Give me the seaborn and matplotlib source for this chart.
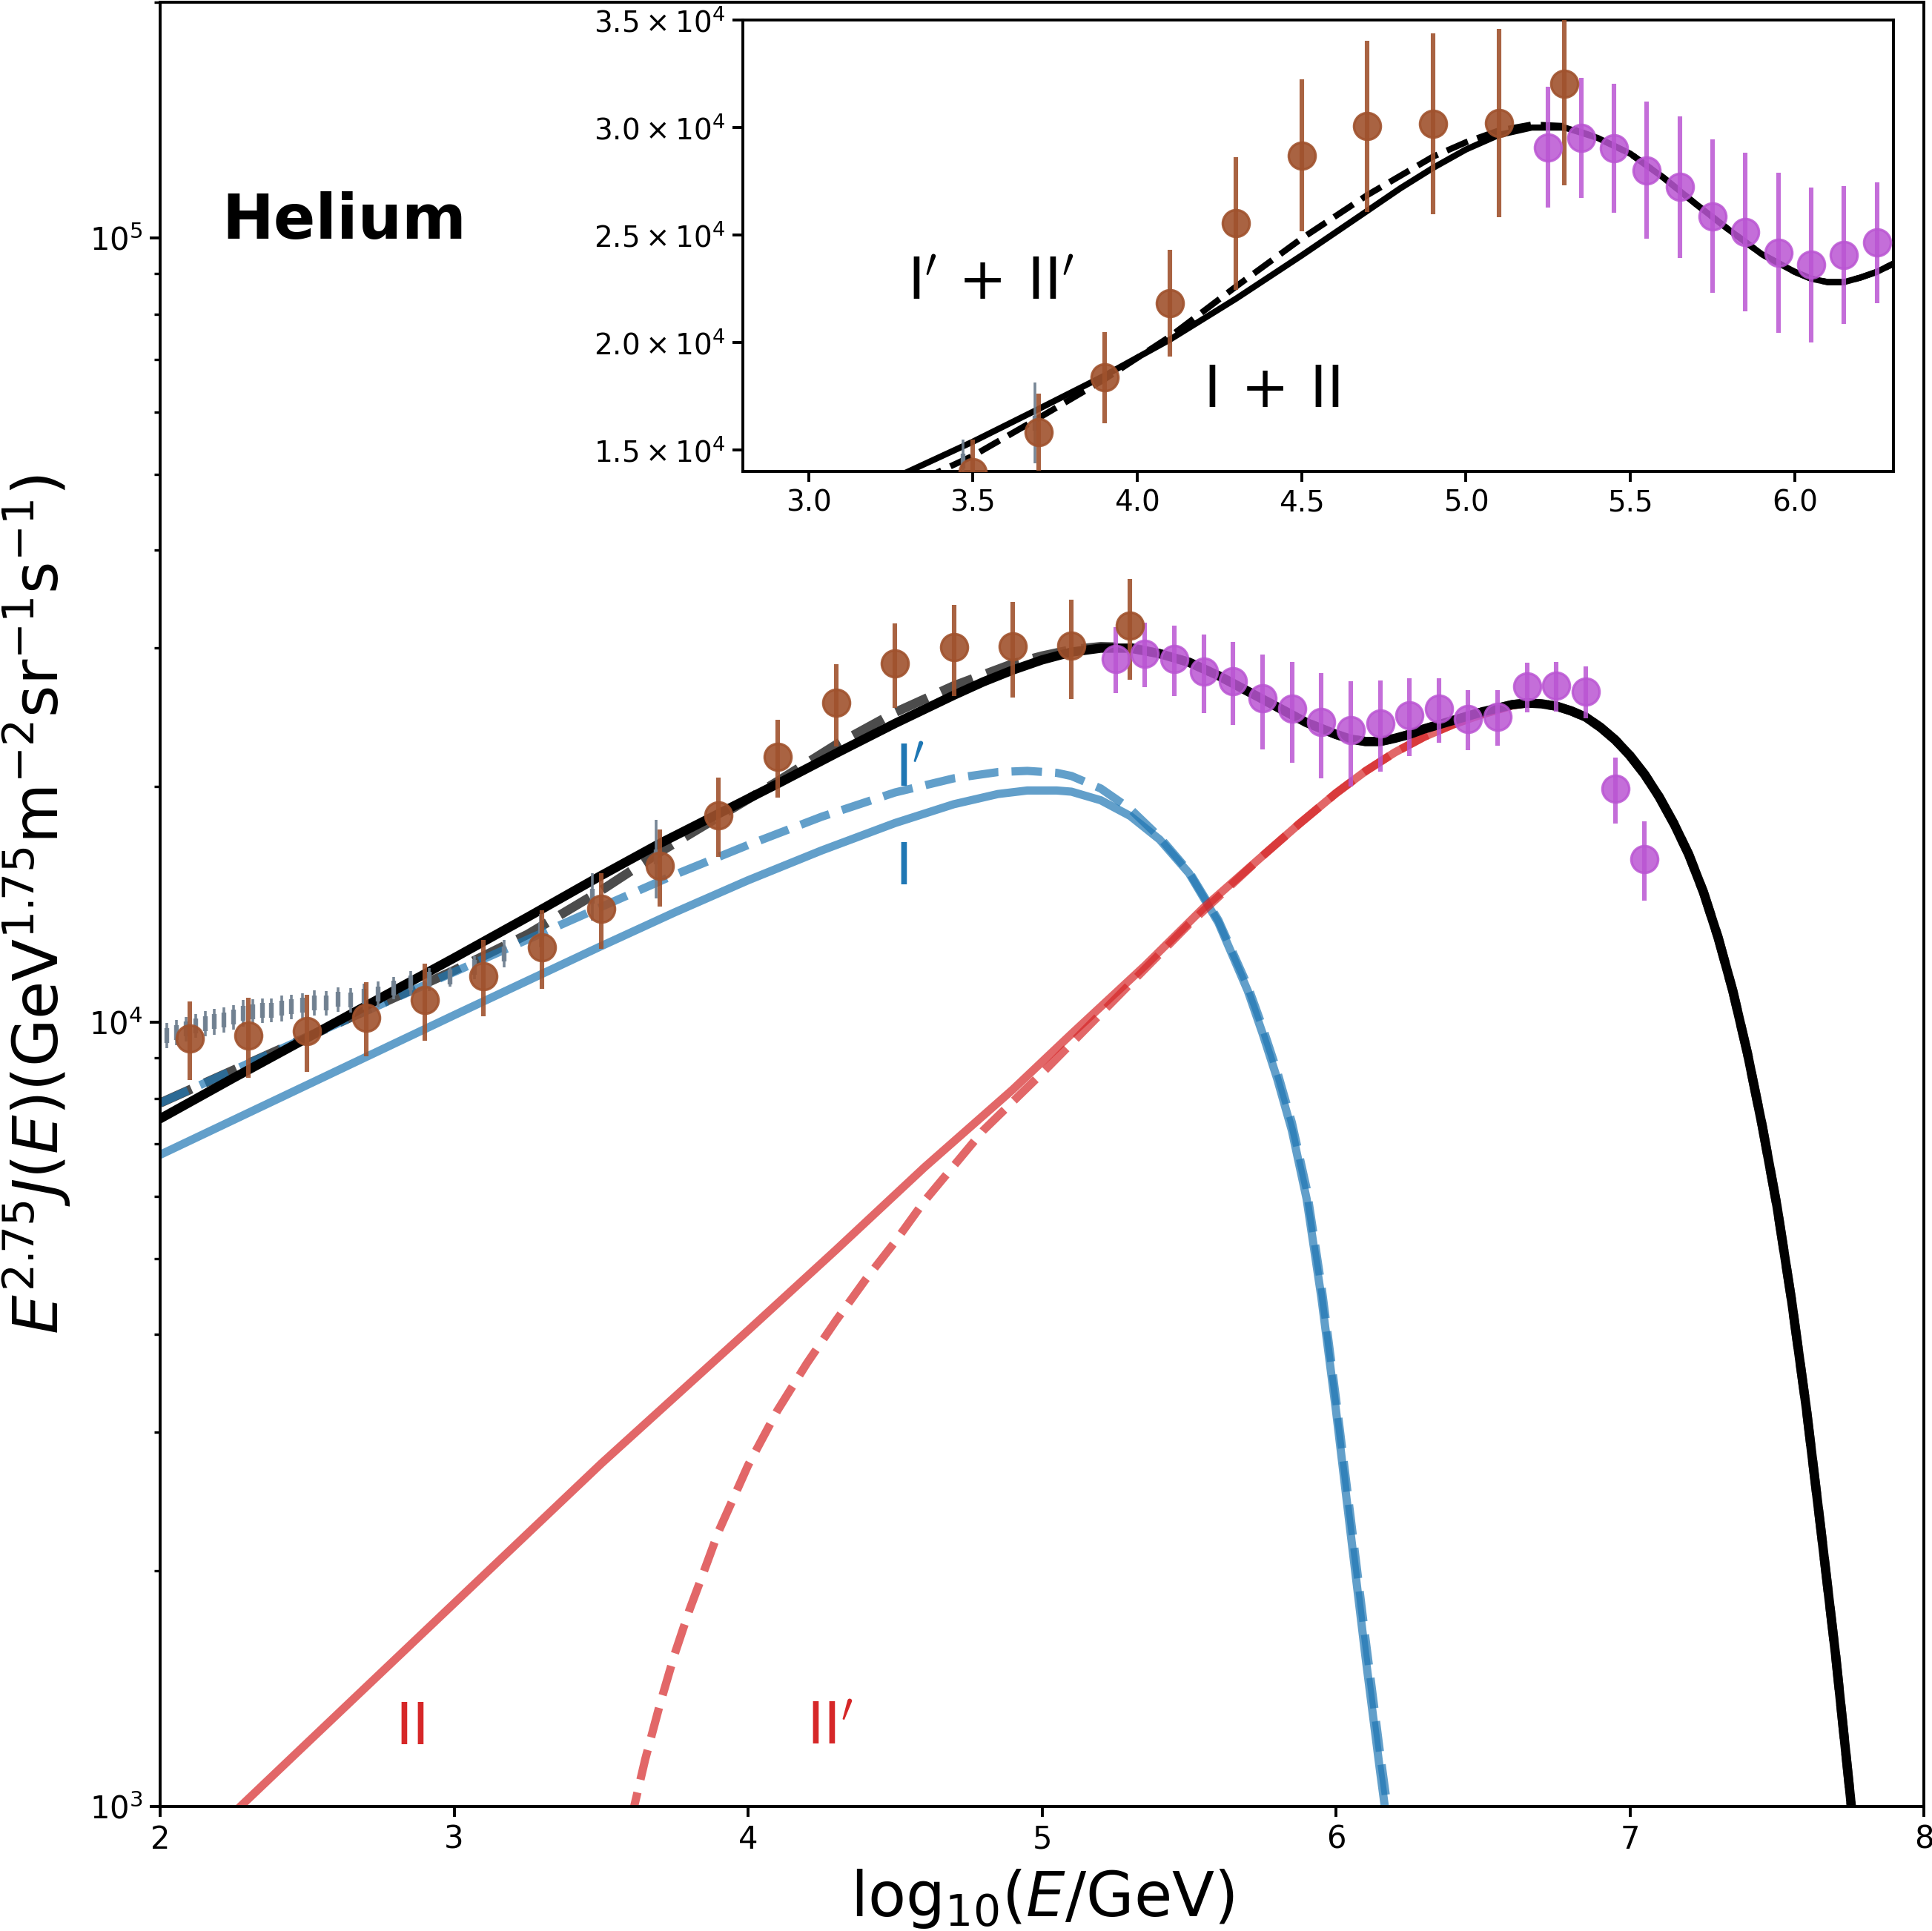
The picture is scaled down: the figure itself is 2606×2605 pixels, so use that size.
import numpy as np
import pandas as pd
import seaborn as sns
import matplotlib.pyplot as plt
from matplotlib.ticker import FixedLocator, FixedFormatter, NullLocator

# ---- data (x = log10(E/GeV), y = E^2.75 J(E)) ----
# gray points (low-energy direct measurement)
gray_x = [2.022, 2.055, 2.087, 2.121, 2.153, 2.185, 2.217, 2.249, 2.282, 2.314,
          2.347, 2.379, 2.413, 2.447, 2.485, 2.524, 2.565, 2.606, 2.647, 2.693,
          2.741, 2.795, 2.853, 2.916, 2.987, 3.07, 3.17, 3.294, 3.47, 3.688]
gray_y = [9623, 9707, 9799, 9899, 9957, 10020, 10065, 10146, 10272, 10317,
          10354, 10362, 10414, 10460, 10505, 10590, 10582, 10698, 10675, 10784,
          10862, 11053, 11231, 11345, 11420, 11750, 12230, 13100, 14480, 16250]
gray_err = [350, 355, 345, 340, 370, 380, 375, 370, 400, 390,
            375, 365, 390, 370, 385, 395, 385, 390, 385, 405,
            410, 360, 385, 380, 320, 400, 490, 650, 1000, 1870]

# brown points
brown_x = [2.1, 2.3, 2.5, 2.7, 2.9, 3.1, 3.3, 3.5, 3.7, 3.9, 4.1, 4.3, 4.5, 4.7, 4.9, 5.1, 5.3]
brown_y = [9533, 9623, 9743, 10140, 10670, 11450, 12470, 13950, 15830, 18370,
           21820, 25530, 28700, 30050, 30170, 30200, 32030]
brown_err = [1100, 1120, 1090, 1100, 1200, 1270, 1430, 1540, 1800, 2120,
             2470, 3070, 3520, 3970, 4200, 4390, 4720]

# purple points
purple_x = [5.25, 5.35, 5.45, 5.55, 5.65, 5.75, 5.85, 5.95, 6.05, 6.15,
            6.25, 6.35, 6.45, 6.55, 6.65, 6.75, 6.85, 6.95, 7.05]
purple_y = [29080, 29510, 29045, 28010, 27220, 25870, 25130, 24170, 23600, 24060,
            24640, 25090, 24380, 24520, 26790, 26850, 26410, 19830, 16160]
purple_err = [2800, 2790, 3000, 3200, 3300, 3570, 3700, 3720, 3600, 3200,
              2800, 2350, 2130, 2000, 1970, 1970, 2000, 1900, 1860]

# model curves, read as log10 of E^2.75 J
tail_x = [6.65, 6.7, 6.75, 6.8, 6.85, 6.9, 6.95, 7.0, 7.05, 7.1, 7.15, 7.2, 7.25,
          7.3, 7.35, 7.4, 7.45, 7.5, 7.55, 7.6, 7.65, 7.7, 7.75, 7.77]
tail_log = [4.407, 4.406, 4.403, 4.397, 4.389, 4.376, 4.360, 4.340, 4.316, 4.287,
            4.253, 4.214, 4.166, 4.108, 4.040, 3.960, 3.868, 3.766, 3.645, 3.508,
            3.352, 3.192, 3.012, 2.935]

knee_x = [5.4, 5.5, 5.6, 5.7, 5.8, 5.9, 6.0, 6.05, 6.1, 6.15, 6.2, 6.25, 6.3,
          6.4, 6.5, 6.6]
knee_log = [4.470, 4.459, 4.442, 4.422, 4.402, 4.382, 4.367, 4.361, 4.358, 4.358,
            4.362, 4.367, 4.374, 4.385, 4.396, 4.405]

tot_x = [2.0, 2.25, 2.5, 2.75, 3.0, 3.25, 3.5, 3.7, 3.9, 4.1, 4.3, 4.5, 4.7, 4.8,
         4.9, 5.0, 5.1, 5.2, 5.3] + knee_x + tail_x
tot_log = [3.877, 3.929, 3.980, 4.031, 4.082, 4.134, 4.187, 4.228, 4.266, 4.304,
           4.343, 4.381, 4.417, 4.434, 4.449, 4.462, 4.472, 4.477, 4.477] + knee_log + tail_log

totp_x = [2.0, 2.5, 3.0, 3.25, 3.5, 3.7, 3.9, 4.1, 4.3, 4.5, 4.7, 4.9, 5.0, 5.1,
          5.2, 5.3] + knee_x + tail_x
totp_log = [3.897, 3.981, 4.066, 4.112, 4.168, 4.217, 4.262, 4.307, 4.354, 4.395,
            4.429, 4.457, 4.467, 4.475, 4.479, 4.478] + knee_log + tail_log

c1_x = [2.0, 2.5, 3.0, 3.5, 3.75, 4.0, 4.25, 4.5, 4.7, 4.85, 4.95, 5.05, 5.1, 5.2,
        5.3, 5.4, 5.5, 5.6, 5.7, 5.75, 5.8, 5.85, 5.9, 5.95, 6.0, 6.05, 6.1, 6.15, 6.2]
c1_log = [3.831, 3.920, 4.009, 4.097, 4.140, 4.181, 4.219, 4.254, 4.278, 4.291,
          4.2955, 4.2955, 4.294, 4.283, 4.263, 4.233, 4.190, 4.127, 4.040, 3.986,
          3.928, 3.862, 3.775, 3.650, 3.505, 3.348, 3.192, 3.045, 2.905]

c1p_x = [2.0, 2.5, 3.0, 3.5, 3.75, 4.0, 4.25, 4.5, 4.7, 4.85, 4.95, 5.05, 5.1, 5.2,
         5.3, 5.4, 5.5, 5.6, 5.7, 5.75, 5.8, 5.85, 5.9, 5.95, 6.0, 6.05, 6.1, 6.15,
         6.2, 6.22]
c1p_log = [3.897, 3.981, 4.064, 4.147, 4.188, 4.226, 4.262, 4.293, 4.311, 4.319,
           4.3205, 4.318, 4.314, 4.298, 4.272, 4.236, 4.192, 4.130, 4.046, 3.994,
           3.937, 3.872, 3.788, 3.665, 3.520, 3.368, 3.215, 3.068, 2.93, 2.87]

c2_x = [2.2, 2.5, 3.0, 3.5, 4.0, 4.3, 4.6, 4.9, 5.1, 5.35, 5.55, 5.75, 5.875, 6.0,
        6.1, 6.2, 6.3, 6.4, 6.5, 6.6] + tail_x
c2_log = [2.974, 3.081, 3.259, 3.437, 3.607, 3.710, 3.815, 3.914, 3.985, 4.072,
          4.146, 4.212, 4.253, 4.292, 4.320, 4.344, 4.364, 4.380, 4.393, 4.404] + tail_log

c2p_x = [3.6, 3.65, 3.7, 3.75, 3.8, 3.85, 3.9, 4.0, 4.1, 4.2, 4.3, 4.4, 4.5, 4.6,
         4.8, 5.0, 5.25, 5.5, 5.75, 5.875, 6.0, 6.1, 6.2, 6.3, 6.4, 6.5, 6.6] + tail_x
c2p_log = [2.980, 3.060, 3.130, 3.194, 3.250, 3.300, 3.351, 3.435, 3.505, 3.565,
           3.620, 3.672, 3.720, 3.772, 3.862, 3.935, 4.030, 4.125, 4.212, 4.253,
           4.292, 4.320, 4.344, 4.364, 4.380, 4.393, 4.404] + tail_log

sns.set_style("ticks")
plt.rcParams['font.family'] = ['DejaVu Sans']
plt.rcParams['mathtext.fontset'] = 'dejavusans'
for key in ['text.color', 'axes.labelcolor', 'xtick.color', 'ytick.color', 'axes.edgecolor']:
    plt.rcParams[key] = 'black'

BLUE = '#1f77b4'
RED = '#d62728'
BROWN = '#a0522d'
PURPLE = '#ba55d3'
GRAY = 'slategray'


def curve(a, xs, logs, **kw):
    sns.lineplot(x=xs, y=10 ** np.array(logs), ax=a, sort=False, estimator=None, **kw)


def draw_points(a):
    a.errorbar(gray_x, gray_y, yerr=gray_err, fmt='|', color=GRAY, ms=7,
               mew=2.3, elinewidth=1.3, alpha=0.95, zorder=5)
    a.errorbar(brown_x, brown_y, yerr=brown_err, fmt='none', ecolor=BROWN,
               elinewidth=2.2, alpha=0.9, zorder=6)
    sns.scatterplot(x=brown_x, y=brown_y, ax=a, color=BROWN, s=170, alpha=0.9,
                    edgecolor=BROWN, linewidth=1.2, zorder=7)
    a.errorbar(purple_x, purple_y, yerr=purple_err, fmt='none', ecolor=PURPLE,
               elinewidth=2.2, alpha=0.85, zorder=6)
    sns.scatterplot(x=purple_x, y=purple_y, ax=a, color=PURPLE, s=170, alpha=0.85,
                    edgecolor=PURPLE, linewidth=1.2, zorder=7)


fig = plt.figure(figsize=(13.03, 13.025), dpi=200)
ax = fig.add_axes([0.0829, 0.0645, 0.9129, 0.9345])

curve(ax, totp_x, totp_log, color='black', lw=4.5, alpha=0.7, linestyle='--', zorder=2)
curve(ax, tot_x, tot_log, color='black', lw=4.5, zorder=3)
curve(ax, c1_x, c1_log, color=BLUE, lw=4, alpha=0.7, zorder=2)
curve(ax, c1p_x, c1p_log, color=BLUE, lw=4, alpha=0.7, linestyle='--', zorder=2)
curve(ax, c2_x, c2_log, color=RED, lw=4, alpha=0.7, zorder=2)
curve(ax, c2p_x, c2p_log, color=RED, lw=4, alpha=0.7, linestyle='--', zorder=2)
draw_points(ax)

ax.set_yscale('log')
ax.set_xlim(2, 8)
ax.set_ylim(1e3, 2e5)
ax.set_xticks([2, 3, 4, 5, 6, 7, 8])
ax.set_xticklabels(['2', '3', '4', '5', '6', '7', '8'])
ax.tick_params(which='major', labelsize=15, length=5, width=1.4)
ax.tick_params(which='minor', length=2.8, width=1.2)
for sp in ax.spines.values():
    sp.set_linewidth(1.4)
ax.set_xlabel(r'$\mathrm{log}_{10}(E/\mathrm{GeV})$', fontsize=30, labelpad=6)
ax.set_ylabel(r'$E^{2.75}J(E)(\mathrm{GeV}^{1.75}\mathrm{m}^{-2}\mathrm{sr}^{-1}\mathrm{s}^{-1})$',
              fontsize=30, labelpad=8)

ax.text(0.035, 0.8686, 'Helium', transform=ax.transAxes, fontsize=30,
        fontweight='bold', ha='left', va='baseline')
ax.text(4.5, 2.0e4, r"$\mathrm{I}'$", color=BLUE, fontsize=28, ha='left', va='baseline')
ax.text(4.5, 1.5e4, r"$\mathrm{I}$", color=BLUE, fontsize=28, ha='left', va='baseline')
ax.text(2.8, 1.2e3, r"$\mathrm{II}$", color=RED, fontsize=28, ha='left', va='baseline')
ax.text(4.2, 1.2e3, r"$\mathrm{II}'$", color=RED, fontsize=28, ha='left', va='baseline')

# inset zoom on the knee region
ins = fig.add_axes([0.3845, 0.7559, 0.5955, 0.2338])
ins.set_facecolor('white')
curve(ins, totp_x, totp_log, color='black', lw=3, linestyle='--', zorder=2)
curve(ins, tot_x, tot_log, color='black', lw=3, zorder=3)
draw_points(ins)
ins.set_xlim(2.8, 6.3)
ins.set_ylim(14000, 35000)
ins.set_xticks([3.0, 3.5, 4.0, 4.5, 5.0, 5.5, 6.0])
ins.set_xticklabels(['3.0', '3.5', '4.0', '4.5', '5.0', '5.5', '6.0'])
ins.yaxis.set_major_locator(FixedLocator([15000, 20000, 25000, 30000, 35000]))
ins.yaxis.set_major_formatter(FixedFormatter([r'$1.5\times10^{4}$', r'$2.0\times10^{4}$',
                                              r'$2.5\times10^{4}$', r'$3.0\times10^{4}$',
                                              r'$3.5\times10^{4}$']))
ins.yaxis.set_minor_locator(NullLocator())
ins.tick_params(labelsize=14, length=5, width=1.4)
for sp in ins.spines.values():
    sp.set_linewidth(1.4)
ins.set_xlabel('')
ins.set_ylabel('')
ins.text(3.3, 2.2e4, r"$\mathrm{I}'\,+\,\mathrm{II}'$", fontsize=28, ha='left', va='baseline')
ins.text(4.2, 1.7e4, r"$\mathrm{I}\,+\,\mathrm{II}$", fontsize=28, ha='left', va='baseline')

fig.savefig('out.png', dpi=200)
